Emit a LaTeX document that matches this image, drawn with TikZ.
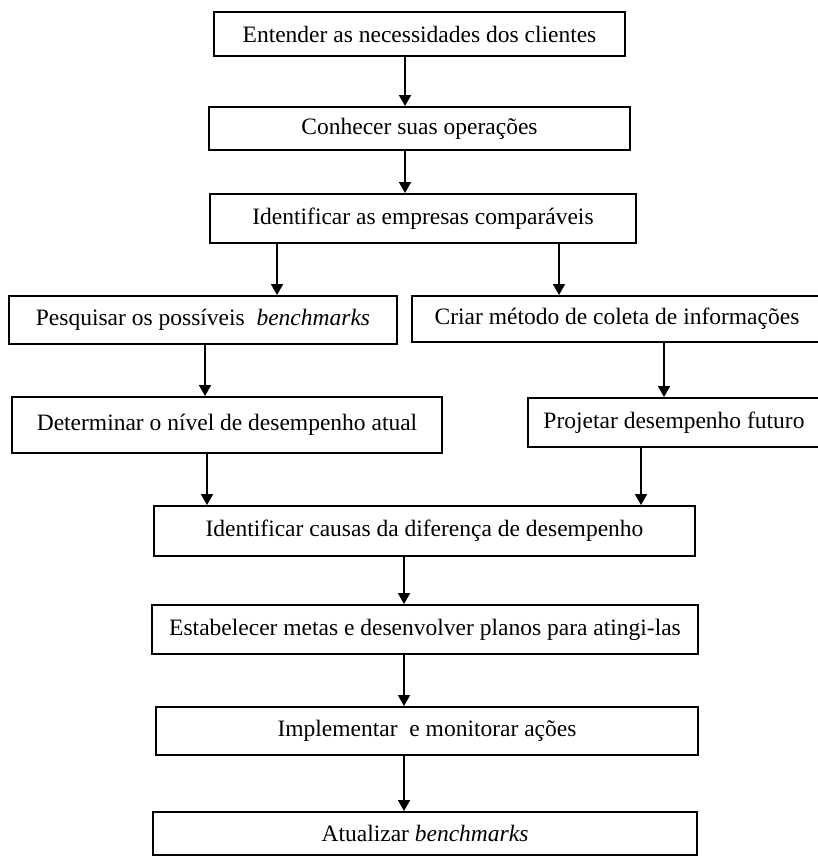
\documentclass[tikz,border=0pt]{standalone}
\usepackage{fontspec}
\setmainfont{Liberation Serif}
\usetikzlibrary{arrows.meta}
\begin{document}
\begin{tikzpicture}[x=1pt,y=-1pt,
  box/.style={draw, line width=2pt, rectangle, inner sep=0pt, font=\fontsize{23.5}{27}\selectfont},
  arr/.style={line width=1.8pt, -{Triangle[length=11pt,width=12pt]}}]
\useasboundingbox (0,0) rectangle (818,857);
\clip (0,0) rectangle (818,857);
\node[box, minimum width=411pt, minimum height=44pt] (n1) at (419.5,34) {Entender as necessidades dos clientes};
\node[box, minimum width=421pt, minimum height=43pt] (n2) at (419.5,128.5) {Conhecer suas operações};
\node[box, minimum width=426pt, minimum height=49pt] (n3) at (423,218.5) {Identificar as empresas comparáveis};
\node[box, minimum width=388pt, minimum height=48pt] (n4) at (203,320) {Pesquisar os possíveis\ \ \textit{benchmarks}};
\node[box, minimum width=410pt, minimum height=46pt] (n5) at (617,319) {Criar método de coleta de informações};
\node[box, minimum width=430pt, minimum height=56pt] (n6) at (227,425) {Determinar o nível de desempenho atual};
\node[box, minimum width=292pt, minimum height=49pt] (n7) at (674,422.5) {Projetar desempenho futuro};
\node[box, minimum width=541pt, minimum height=50pt] (n8) at (424.5,531) {Identificar causas da diferença de desempenho};
\node[box, minimum width=546pt, minimum height=49pt] (n9) at (425,629.5) {Estabelecer metas e desenvolver planos para atingi-las};
\node[box, minimum width=542pt, minimum height=48pt] (n10) at (427,731) {Implementar\ \ e monitorar ações};
\node[box, minimum width=544pt, minimum height=43pt] (n11) at (425,833.5) {Atualizar \textit{benchmarks}};
% connector start points
\coordinate (a12) at ([xshift=192pt]n1.south west);
\coordinate (a23) at ([xshift=197pt]n2.south west);
\coordinate (a34) at ([xshift=68pt]n3.south west);
\coordinate (a35) at ([xshift=350pt]n3.south west);
\coordinate (a46) at ([xshift=197pt]n4.south west);
\coordinate (a57) at ([xshift=253pt]n5.south west);
\coordinate (a68) at ([xshift=196pt]n6.south west);
\coordinate (a78) at ([xshift=114pt]n7.south west);
\coordinate (a89) at ([xshift=251pt]n8.south west);
\coordinate (a910) at ([xshift=253pt]n9.south west);
\coordinate (a1011) at ([xshift=249pt]n10.south west);
\draw[arr] (a12) -- (a12 |- n2.north);
\draw[arr] (a23) -- (a23 |- n3.north);
\draw[arr] (a34) -- (a34 |- n4.north);
\draw[arr] (a35) -- (a35 |- n5.north);
\draw[arr] (a46) -- (a46 |- n6.north);
\draw[arr] (a57) -- (a57 |- n7.north);
\draw[arr] (a68) -- (a68 |- n8.north);
\draw[arr] (a78) -- (a78 |- n8.north);
\draw[arr] (a89) -- (a89 |- n9.north);
\draw[arr] (a910) -- (a910 |- n10.north);
\draw[arr] (a1011) -- (a1011 |- n11.north);
\end{tikzpicture}
\end{document}
